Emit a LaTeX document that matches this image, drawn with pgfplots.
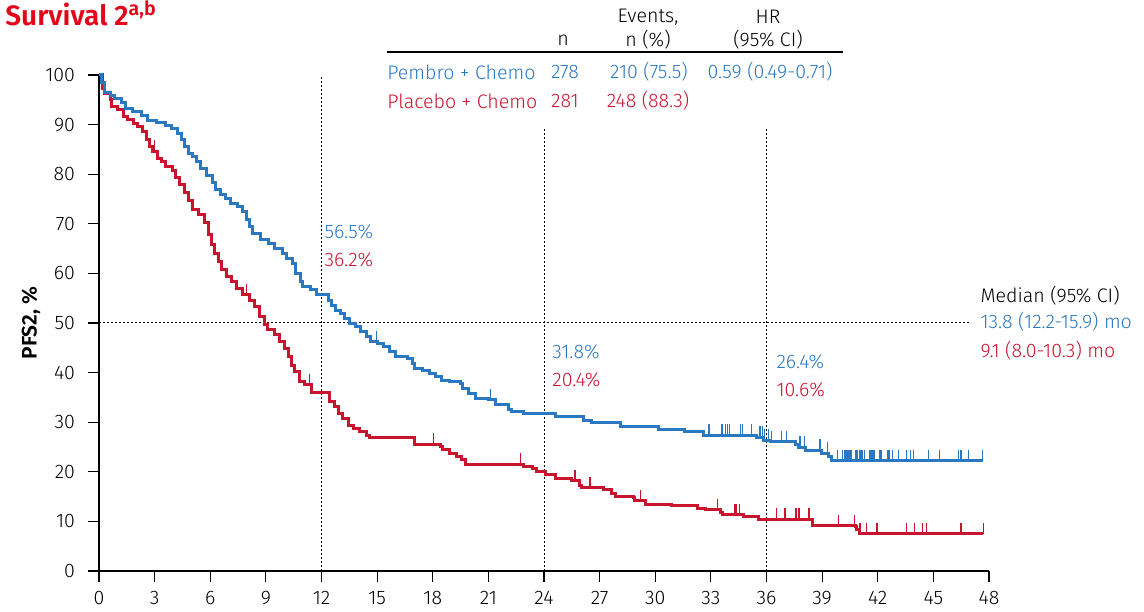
\documentclass[border=0pt]{standalone}
\usepackage{fontspec}
\setmainfont{Fira Sans}[UprightFont=* Light, BoldFont=* SemiBold]
\usepackage{pgfplots}
\pgfplotsset{compat=1.18}
\definecolor{pblue}{HTML}{2A78C2}
\definecolor{pred}{HTML}{C8142C}
\definecolor{tred}{HTML}{E3061B}
\pgfdeclareplotmark{cens}{\pgfpathmoveto{\pgfqpoint{0pt}{0pt}}\pgfpathlineto{\pgfqpoint{0pt}{5.5pt}}\pgfusepathqstroke}
\newcommand{\fs}{\fontsize{9.8}{12}\selectfont}
\begin{document}
\begin{tikzpicture}
\begin{axis}[
  scale only axis, width=445pt, height=248pt,
  xmin=0, xmax=48, ymin=0, ymax=100,
  axis x line=bottom, axis y line=left,
  axis line style={-, line width=0.6pt},
  xtick={0,3,...,48}, ytick={0,10,...,100},
  tick align=outside, major tick length=5.5pt,
  tick style={black, line width=0.6pt},
  tick label style={font=\fontsize{9.8}{11}\selectfont},
  yticklabel style={xshift=-3pt},
  xticklabel style={yshift=-1pt},
  /pgf/number format/assume math mode=true,
  clip=false,
]
% reference lines
\draw[line width=0.5pt, dash pattern=on 1pt off 1pt] (axis cs:12,0) -- (axis cs:12,100);
\draw[line width=0.5pt, dash pattern=on 1pt off 1pt] (axis cs:24,0) -- (axis cs:24,89.3);
\draw[line width=0.5pt, dash pattern=on 1pt off 1pt] (axis cs:36,0) -- (axis cs:36,89.3);
\draw[line width=0.5pt, dash pattern=on 1pt off 1pt] (axis cs:0,50) -- (axis cs:47,50);

% Placebo + Chemo
\addplot[const plot, pred, line width=1.5pt] coordinates {
(0,100) (0.2,97.3) (0.32,96.3) (0.6,95.0) (0.68,93.7) (1.0,93.0) (1.3,91.7) (1.55,91.0)
(1.85,90.3) (2.1,89.6) (2.35,88.6) (2.55,86.9) (2.75,85.6) (2.9,84.6) (3.15,83.2) (3.35,82.5)
(3.6,81.5) (3.95,80.8) (4.15,79.4) (4.35,78.0) (4.6,76.3) (4.8,74.6) (5.05,72.9) (5.35,71.9)
(5.7,70.2) (5.9,67.8) (6.05,65.8) (6.25,64.1) (6.45,62.4) (6.6,60.7) (6.9,59.3) (7.15,58.3)
(7.4,57.0) (7.75,55.7) (8.1,54.6) (8.4,53.3) (8.65,51.3) (8.9,49.6) (9.1,48.6) (9.45,47.6)
(9.75,46.2) (10.0,44.9) (10.2,43.2) (10.4,41.5) (10.55,40.2) (10.8,38.2) (11.1,37.5) (11.45,36.0)
(12.45,34.1) (12.7,33.1) (12.9,31.8) (13.15,30.8) (13.45,29.4) (13.7,28.8) (14.05,28.1) (14.4,27.4)
(14.6,27.0) (17.0,25.6) (18.4,25.1) (18.55,24.4) (18.9,23.7) (19.3,23.0) (19.55,22.4) (19.75,21.5)
(22.9,21.0) (23.4,20.7) (23.6,20.0) (24.06,19.4) (24.6,18.7) (25.5,18.2) (25.94,17.3) (26.03,16.8)
(27.2,16.5) (27.65,15.7) (27.83,15.1) (28.8,14.9) (28.9,14.2) (29.45,13.5) (30.9,13.2) (32.3,12.6)
(32.7,12.3) (33.5,11.8) (33.6,11.3) (34.75,10.9) (35.56,10.4) (38.5,9.1) (40.8,8.9) (40.87,8.4)
(41.0,7.5) (47.7,7.5)
};
\addplot[only marks, mark=cens, pred, line width=0.7pt] coordinates {
(2.98,84.6) (7.96,55.7) (11.35,37.5) (18.03,25.6) (22.74,21.5) (25.67,18.2) (26.48,16.8)
(29.22,14.2) (33.35,12.3) (34.30,11.3) (34.39,11.3) (34.54,11.3) (36.55,10.4) (37.0,10.4)
(37.6,10.4) (37.76,10.4) (38.3,10.4) (39.88,9.1) (40.74,9.1) (41.05,7.5) (41.4,7.5) (41.95,7.5)
(43.56,7.5) (43.98,7.5) (44.4,7.5) (44.64,7.5) (46.48,7.5) (47.7,7.5)
};

% Pembro + Chemo
\addplot[const plot, pblue, line width=1.5pt] coordinates {
(0,100) (0.15,98.5) (0.3,96.5) (0.6,95.8) (0.85,95.2) (1.2,94.5) (1.45,93.3) (1.8,92.6)
(2.3,91.9) (2.6,90.9) (3.1,90.5) (3.6,89.9) (3.9,89.2) (4.25,88.2) (4.45,86.9) (4.6,85.5)
(4.8,84.2) (5.05,83.5) (5.25,82.5) (5.5,81.2) (5.8,79.8) (6.1,78.3) (6.3,77.0) (6.55,76.0)
(6.8,75.1) (7.1,74.1) (7.45,73.4) (7.75,72.4) (7.95,70.8) (8.1,69.5) (8.3,68.0) (8.7,66.9)
(9.15,66.1) (9.45,65.1) (9.9,64.1) (10.1,63.0) (10.45,62.0) (10.6,60.0) (10.85,58.3) (11.0,57.3)
(11.4,56.7) (11.75,55.8) (12.4,54.6) (12.55,53.6) (12.75,52.6) (13.05,51.9) (13.25,50.9) (13.5,49.9)
(13.85,49.3) (14.1,48.2) (14.4,47.2) (14.65,46.2) (15.0,45.9) (15.35,45.2) (15.65,44.2) (16.0,43.2)
(16.65,42.9) (16.9,41.9) (17.0,40.9) (17.45,40.5) (17.8,39.9) (18.15,39.2) (18.45,38.5) (18.9,38.2)
(19.5,37.8) (19.6,36.8) (19.95,35.8) (20.3,34.8) (21.0,34.5) (21.4,33.5) (22.08,32.5) (22.26,32.1)
(22.89,31.8) (24.6,31.1) (26.12,30.4) (26.57,30.0) (28.1,29.1) (30.17,28.6) (31.6,28.1) (32.6,27.4)
(35.47,27.0) (35.83,26.4) (36.19,26.1) (37.54,25.4) (37.72,24.9) (38.08,24.3) (38.98,23.7) (39.34,23.0)
(39.52,22.2) (47.7,22.2)
};
\addplot[only marks, mark=cens, pblue, line width=0.7pt] coordinates {
(14.97,46.2) (21.1,34.5) (32.9,27.4) (33.6,27.4) (33.8,27.4) (33.9,27.4) (34.0,27.4) (34.6,27.4)
(34.7,27.4) (35.2,27.4) (35.65,27.0) (35.8,27.0) (35.9,26.4) (36.1,26.4) (36.28,26.1) (36.82,26.1)
(37.09,26.1) (37.8,24.9) (38.05,24.9) (38.88,24.3) (39.3,23.7) (39.82,22.2) (40.11,22.2) (40.2,22.2)
(40.29,22.2) (40.38,22.2) (40.45,22.2) (40.56,22.2) (40.83,22.2) (40.92,22.2) (41.01,22.2) (41.1,22.2)
(41.19,22.2) (41.28,22.2) (41.55,22.2) (41.62,22.2) (41.69,22.2) (41.8,22.2) (42.13,22.2) (42.18,22.2)
(42.52,22.2) (42.61,22.2) (42.81,22.2) (43.11,22.2) (43.56,22.2) (43.78,22.2) (43.92,22.2) (44.73,22.2)
(45.32,22.2) (46.35,22.2) (46.48,22.2) (46.89,22.2) (47.66,22.2)
};

% landmark annotations
\node[anchor=west, inner sep=0pt, text=pblue, font=\fs] at (axis cs:12.14,68.3) {56.5\%};
\node[anchor=west, inner sep=0pt, text=pred, font=\fs] at (axis cs:12.14,62.7) {36.2\%};
\node[anchor=west, inner sep=0pt, text=pblue, font=\fs] at (axis cs:24.43,44.2) {31.8\%};
\node[anchor=west, inner sep=0pt, text=pred, font=\fs] at (axis cs:24.43,38.5) {20.4\%};
\node[anchor=west, inner sep=0pt, text=pblue, font=\fs] at (axis cs:36.52,42.1) {26.4\%};
\node[anchor=west, inner sep=0pt, text=pred, font=\fs] at (axis cs:36.52,36.5) {10.6\%};

% median
\node[anchor=west, inner sep=0pt, text=black, font=\fs] at (axis cs:47.52,55.6) {Median (95\% CI)};
\node[anchor=west, inner sep=0pt, text=pblue, font=\fs] at (axis cs:47.52,50.2) {13.8 (12.2-15.9) mo};
\node[anchor=west, inner sep=0pt, text=pred, font=\fs] at (axis cs:47.52,44.4) {9.1 (8.0-10.3) mo};

% table
\node[inner sep=0pt, font=\fs] at (axis cs:25.03,107.06) {n};
\node[inner sep=0pt, font=\fs] at (axis cs:29.61,111.69) {Events,};
\node[inner sep=0pt, font=\fs] at (axis cs:29.61,107.06) {n (\%)};
\node[inner sep=0pt, font=\fs] at (axis cs:36.08,111.69) {HR};
\node[inner sep=0pt, font=\fs] at (axis cs:36.08,107.06) {(95\% CI)};
\draw[line width=0.6pt] (axis cs:15.53,104.64) -- (axis cs:40.13,104.64);
\node[anchor=west, inner sep=0pt, text=pblue, font=\fs] at (axis cs:15.53,100.6) {Pembro + Chemo};
\node[inner sep=0pt, text=pblue, font=\fs] at (axis cs:25.13,100.6) {278};
\node[inner sep=0pt, text=pblue, font=\fs] at (axis cs:29.66,100.6) {210 (75.5)};
\node[inner sep=0pt, text=pblue, font=\fs] at (axis cs:36.19,100.6) {0.59 (0.49-0.71)};
\node[anchor=west, inner sep=0pt, text=pred, font=\fs] at (axis cs:15.53,94.76) {Placebo + Chemo};
\node[inner sep=0pt, text=pred, font=\fs] at (axis cs:25.13,94.76) {281};
\node[inner sep=0pt, text=pred, font=\fs] at (axis cs:29.61,94.76) {248 (88.3)};

% title and y label
\node[anchor=base west, inner sep=0pt, text=tred, font=\fontsize{14}{16}\selectfont\bfseries] at (axis cs:-5.07,109.9) {Survival 2\textsuperscript{a,b}};
\node[rotate=90, inner sep=0pt, font=\fontsize{10.5}{12}\selectfont\bfseries] at (axis cs:-3.67,50) {PFS2, \%};

\coordinate (bbl) at (axis cs:-5.34,-8.27);
\coordinate (btr) at (axis cs:56.36,115.12);
\end{axis}
\pgfresetboundingbox
\path[use as bounding box] (bbl) rectangle (btr);
\end{tikzpicture}
\end{document}
